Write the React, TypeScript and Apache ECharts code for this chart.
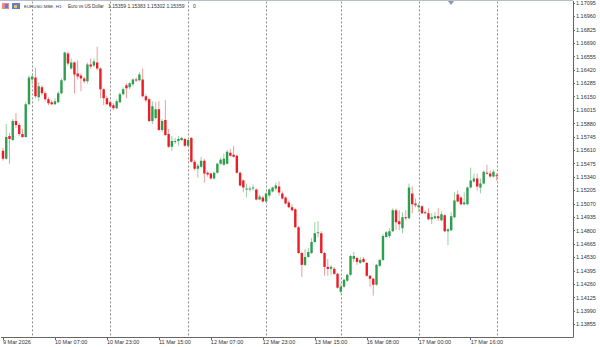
import React, { useEffect, useRef } from "react";
import * as echarts from "echarts";

const categoryCount = 176;
const xTickIndex = [0, 16, 32, 48, 64, 80, 96, 112, 128, 144];
const xTickLabels = ["9 Mar 2026", "10 Mar 07:00", "10 Mar 23:00", "11 Mar 15:00", "12 Mar 07:00", "12 Mar 23:00", "13 Mar 15:00", "16 Mar 08:00", "17 Mar 00:00", "17 Mar 16:00"];
const dayStartIndex = [9, 33, 57, 81, 104, 128, 152];
const yTickValues = [1.13855, 1.1399, 1.14125, 1.1426, 1.14395, 1.1453, 1.14665, 1.148, 1.14935, 1.1507, 1.15205, 1.1534, 1.15475, 1.1561, 1.15745, 1.1588, 1.16015, 1.1615, 1.16285, 1.1642, 1.16555, 1.1669, 1.16825, 1.1696, 1.17095];

const opens = [
  1.15605, 1.15525, 1.15755, 1.15715, 1.15905, 1.15865, 1.15775, 1.15745, 1.16075, 1.16325,
  1.16345, 1.16145, 1.16245, 1.16185, 1.16125, 1.16095, 1.16075, 1.16095, 1.16185, 1.16315,
  1.16585, 1.16435, 1.16495, 1.16385, 1.16365, 1.16335, 1.16305, 1.16475, 1.16465, 1.16495,
  1.16435, 1.16225, 1.16135, 1.16095, 1.16065, 1.16035, 1.16095, 1.16175, 1.16265, 1.16245,
  1.16275, 1.16325, 1.16315, 1.16325, 1.16155, 1.16125, 1.15905, 1.15935, 1.16025, 1.15815,
  1.15915, 1.15775, 1.15645, 1.15695, 1.15705, 1.15715, 1.15725, 1.15655, 1.15735, 1.15495,
  1.15425, 1.15445, 1.15505, 1.15385, 1.15375, 1.15325, 1.15385, 1.15475, 1.15465, 1.15475,
  1.15585, 1.15565, 1.15555, 1.15385, 1.15305, 1.15215, 1.15215, 1.15225, 1.15215, 1.15115,
  1.15135, 1.15095, 1.15155, 1.15195, 1.15225, 1.15245, 1.15175, 1.15135, 1.15085, 1.15035,
  1.15015, 1.14835, 1.14575, 1.14455, 1.14535, 1.14575, 1.14685, 1.14775, 1.14775, 1.14575,
  1.14435, 1.14415, 1.14415, 1.14365, 1.14185, 1.14235, 1.14295, 1.14355, 1.14515, 1.14525,
  1.14475, 1.14515, 1.14475, 1.14345, 1.14315, 1.14255, 1.14445, 1.14505, 1.14735, 1.14745,
  1.14795, 1.15005, 1.14895, 1.14825, 1.14935, 1.14925, 1.15175, 1.15075, 1.15035, 1.15045,
  1.14985, 1.14975, 1.14915, 1.14925, 1.14945, 1.14905, 1.14955, 1.14795, 1.14805, 1.14935,
  1.15165, 1.15135, 1.15065, 1.15065, 1.15235, 1.15295, 1.15325, 1.15235, 1.15275, 1.15385,
  1.15375, 1.15345, 1.15359,
];
const highs = [
  1.15635, 1.15875, 1.15785, 1.15925, 1.15985, 1.15885, 1.15825, 1.16095, 1.16365, 1.16365,
  1.16445, 1.16295, 1.16265, 1.16205, 1.16145, 1.16115, 1.16135, 1.16205, 1.16335, 1.16605,
  1.16605, 1.16535, 1.16505, 1.16515, 1.16385, 1.16355, 1.16495, 1.16535, 1.16535, 1.16655,
  1.16445, 1.16235, 1.16155, 1.16115, 1.16085, 1.16125, 1.16195, 1.16245, 1.16285, 1.16295,
  1.16335, 1.16345, 1.16395, 1.16435, 1.16175, 1.16135, 1.16105, 1.16095, 1.16105, 1.15925,
  1.16115, 1.15825, 1.15755, 1.15735, 1.15755, 1.15745, 1.15735, 1.15725, 1.15745, 1.15515,
  1.15475, 1.15545, 1.15525, 1.15405, 1.15385, 1.15395, 1.15485, 1.15535, 1.15575, 1.15615,
  1.15625, 1.15655, 1.15565, 1.15395, 1.15315, 1.15275, 1.15245, 1.15265, 1.15225, 1.15165,
  1.15155, 1.15185, 1.15225, 1.15245, 1.15285, 1.15295, 1.15195, 1.15145, 1.15105, 1.15065,
  1.15025, 1.14845, 1.14585, 1.14615, 1.14625, 1.14725, 1.14885, 1.14895, 1.14795, 1.14585,
  1.14515, 1.14455, 1.14435, 1.14375, 1.14265, 1.14315, 1.14365, 1.14555, 1.14585, 1.14535,
  1.14535, 1.14535, 1.14485, 1.14355, 1.14325, 1.14465, 1.14515, 1.14765, 1.14795, 1.14825,
  1.15025, 1.15025, 1.15005, 1.14985, 1.15005, 1.15275, 1.15245, 1.15125, 1.15075, 1.15055,
  1.15005, 1.15025, 1.14975, 1.14985, 1.15025, 1.14995, 1.14965, 1.14825, 1.14985, 1.15185,
  1.15205, 1.15145, 1.15185, 1.15245, 1.15435, 1.15375, 1.15375, 1.15325, 1.15405, 1.15465,
  1.15405, 1.15415, 1.15383,
];
const lows = [
  1.15505, 1.15515, 1.15475, 1.15705, 1.15835, 1.15755, 1.15735, 1.15735, 1.16065, 1.16275,
  1.16135, 1.16105, 1.16165, 1.16105, 1.16065, 1.16065, 1.16065, 1.16085, 1.16175, 1.16305,
  1.16465, 1.16425, 1.16185, 1.16325, 1.16205, 1.16285, 1.16285, 1.16435, 1.16445, 1.16415,
  1.16135, 1.16065, 1.16065, 1.16035, 1.16015, 1.16025, 1.16085, 1.16165, 1.16135, 1.16225,
  1.16255, 1.16295, 1.16305, 1.16145, 1.16095, 1.15895, 1.15875, 1.15925, 1.15805, 1.15795,
  1.15755, 1.15635, 1.15605, 1.15675, 1.15655, 1.15705, 1.15645, 1.15645, 1.15485, 1.15405,
  1.15335, 1.15435, 1.15285, 1.15345, 1.15315, 1.15315, 1.15375, 1.15465, 1.15455, 1.15465,
  1.15545, 1.15535, 1.15375, 1.15245, 1.15185, 1.15135, 1.15195, 1.15205, 1.15105, 1.15105,
  1.15085, 1.15085, 1.15135, 1.15185, 1.15205, 1.15155, 1.15115, 1.15065, 1.15025, 1.14995,
  1.14825, 1.14565, 1.14335, 1.14445, 1.14525, 1.14565, 1.14675, 1.14735, 1.14565, 1.14345,
  1.14345, 1.14355, 1.14355, 1.14215, 1.14165, 1.14225, 1.14285, 1.14345, 1.14485, 1.14455,
  1.14465, 1.14475, 1.14335, 1.14235, 1.14145, 1.14245, 1.14435, 1.14495, 1.14725, 1.14725,
  1.14785, 1.14805, 1.14805, 1.14775, 1.14905, 1.14915, 1.14975, 1.15035, 1.14985, 1.14965,
  1.14965, 1.14905, 1.14865, 1.14915, 1.14895, 1.14895, 1.14785, 1.14655, 1.14795, 1.14925,
  1.15085, 1.15055, 1.15055, 1.15055, 1.15225, 1.15285, 1.15205, 1.15175, 1.15265, 1.15365,
  1.15335, 1.15335, 1.15302,
];
const closes = [
  1.15525, 1.15745, 1.15725, 1.15905, 1.15865, 1.15775, 1.15745, 1.16075, 1.16345, 1.16355,
  1.16155, 1.16255, 1.16185, 1.16125, 1.16085, 1.16075, 1.16105, 1.16185, 1.16315, 1.16595,
  1.16485, 1.16495, 1.16375, 1.16355, 1.16335, 1.16305, 1.16475, 1.16455, 1.16505, 1.16435,
  1.16225, 1.16135, 1.16075, 1.16055, 1.16035, 1.16105, 1.16175, 1.16225, 1.16235, 1.16285,
  1.16325, 1.16315, 1.16375, 1.16155, 1.16115, 1.15905, 1.16055, 1.16025, 1.15815, 1.15905,
  1.15765, 1.15645, 1.15705, 1.15705, 1.15725, 1.15735, 1.15655, 1.15715, 1.15495, 1.15425,
  1.15455, 1.15505, 1.15375, 1.15365, 1.15325, 1.15385, 1.15475, 1.15515, 1.15525, 1.15595,
  1.15555, 1.15545, 1.15385, 1.15255, 1.15235, 1.15225, 1.15225, 1.15235, 1.15115, 1.15145,
  1.15095, 1.15175, 1.15215, 1.15235, 1.15255, 1.15185, 1.15125, 1.15075, 1.15035, 1.15005,
  1.14835, 1.14575, 1.14455, 1.14535, 1.14585, 1.14685, 1.14775, 1.14785, 1.14575, 1.14435,
  1.14415, 1.14435, 1.14365, 1.14225, 1.14235, 1.14305, 1.14355, 1.14545, 1.14545, 1.14485,
  1.14505, 1.14485, 1.14345, 1.14315, 1.14255, 1.14455, 1.14505, 1.14745, 1.14785, 1.14795,
  1.15005, 1.14885, 1.14865, 1.14935, 1.14925, 1.15235, 1.15065, 1.15055, 1.15055, 1.14975,
  1.14975, 1.14915, 1.14935, 1.14945, 1.14925, 1.14965, 1.14795, 1.14815, 1.14945, 1.15105,
  1.15095, 1.15065, 1.15085, 1.15235, 1.15305, 1.15325, 1.15245, 1.15275, 1.15395, 1.15375,
  1.15345, 1.15395, 1.15359,
];

const symbolTitle = "EURUSD.MBE, H1:";
const symbolName = "Euro vs US Dollar";

const FONT = "'Liberation Sans', Arial, sans-serif";
const BULL = "#2e9d4e";
const BEAR = "#ec1c24";
const BULL_WICK = "#98cea4";
const BEAR_WICK = "#f09c9c";

export default function App() {
  const ref = useRef<HTMLDivElement>(null);
  useEffect(() => {
    if (!ref.current) return;
    const chart = echarts.init(ref.current, null, { renderer: "svg" });
    const categories = Array.from({ length: categoryCount }, (_, i) => String(i));
    const candleData = opens.map((o, i) => [i, o, closes[i], lows[i], highs[i]]);
    const last = opens.length - 1;
    const ohlcText = [opens[last], highs[last], lows[last], closes[last]].map((v) => v.toFixed(5)).join(" ");
    const labelFor = (idx: number) => {
      const p = xTickIndex.indexOf(idx);
      return p >= 0 ? xTickLabels[p] : "";
    };
    const showIdx = (idx: number) => xTickIndex.indexOf(idx) >= 0;

    chart.setOption({
      animation: false,
      backgroundColor: "#ffffff",
      grid: { left: -1.3, right: 27, top: 0, bottom: 10, containLabel: false },
      xAxis: {
        type: "category",
        data: categories,
        boundaryGap: true,
        axisLine: { show: true, lineStyle: { color: "#666", width: 1 } },
        axisTick: { show: true, interval: showIdx, alignWithLabel: true, length: 3, lineStyle: { color: "#666" } },
        axisLabel: {
          show: true,
          interval: showIdx,
          formatter: (_v: string, idx: number) => labelFor(idx),
          align: "left",
          margin: 2,
          fontSize: 5.5,
          color: "#333",
          fontFamily: FONT,
        },
        splitLine: { show: false },
      },
      yAxis: {
        type: "value",
        position: "right",
        min: 1.13728,
        max: 1.17111,
        scale: true,
        axisLine: { show: true, lineStyle: { color: "#666", width: 1 } },
        axisTick: { show: true, length: 2, customValues: yTickValues, lineStyle: { color: "#666" } },
        axisLabel: {
          show: true,
          customValues: yTickValues,
          formatter: (v: number) => v.toFixed(5),
          margin: 3,
          fontSize: 5.5,
          color: "#333",
          fontFamily: FONT,
        },
        splitLine: { show: false },
      },
      series: [
        {
          type: "custom",
          silent: true,
          clip: true,
          data: dayStartIndex.map((k) => [k]),
          encode: { x: 0 },
          renderItem: (params: any, api: any) => {
            const cs = params.coordSys;
            const x = Math.round(api.coord([api.value(0), 1.15])[0]) + 0.5;
            return {
              type: "line",
              shape: { x1: x, y1: cs.y, x2: x, y2: cs.y + cs.height },
              style: { stroke: "#8a8a8a", lineWidth: 1, lineDash: [2, 2] },
            };
          },
        },
        {
          type: "custom",
          silent: true,
          clip: true,
          data: candleData,
          encode: { x: 0, y: [1, 2, 3, 4] },
          renderItem: (_params: any, api: any) => {
            const k = api.value(0);
            const o = api.value(1);
            const c = api.value(2);
            const l = api.value(3);
            const h = api.value(4);
            const pO = api.coord([k, o]);
            const pC = api.coord([k, c]);
            const pL = api.coord([k, l]);
            const pH = api.coord([k, h]);
            const w = api.size([1, 0])[0] * 0.74;
            const up = c > o;
            const top = Math.min(pO[1], pC[1]);
            const bh = Math.max(1, Math.abs(pO[1] - pC[1]));
            return {
              type: "group",
              children: [
                {
                  type: "line",
                  shape: { x1: pH[0], y1: pH[1], x2: pL[0], y2: pL[1] },
                  style: { stroke: up ? BULL_WICK : BEAR_WICK, lineWidth: 1 },
                },
                {
                  type: "rect",
                  shape: { x: pO[0] - w / 2, y: top, width: w, height: bh },
                  style: { fill: up ? BULL : BEAR },
                },
              ],
            };
          },
        },
      ],
      graphic: [
        { type: "line", shape: { x1: 0, y1: 0.5, x2: 573, y2: 0.5 }, style: { stroke: "#b8bfc8", lineWidth: 1 } },
        { type: "polygon", shape: { points: [[448, 1], [454, 1], [451, 5]] }, style: { fill: "#8d99a8" } },
        { type: "rect", shape: { x: 2, y: 3, width: 7, height: 6 }, style: { fill: "#e98a8a" } },
        { type: "rect", shape: { x: 5, y: 4, width: 3, height: 4 }, style: { fill: "#5b7fd1" } },
        { type: "rect", shape: { x: 12, y: 3, width: 8, height: 6 }, style: { fill: "#5b7fd1" } },
        { type: "rect", shape: { x: 14, y: 5, width: 3, height: 3 }, style: { fill: "#f0c040" } },
        { type: "text", x: 24, y: 6, style: { text: symbolTitle, fontSize: 4.4, fill: "#333", fontFamily: FONT, textVerticalAlign: "middle" } },
        { type: "text", x: 68, y: 6, style: { text: symbolName, fontSize: 4.5, fill: "#333", fontFamily: FONT, textVerticalAlign: "middle" } },
        { type: "text", x: 108, y: 6, style: { text: ohlcText, fontSize: 5, fill: "#333", fontFamily: FONT, textVerticalAlign: "middle" } },
        { type: "text", x: 193, y: 6, style: { text: "0", fontSize: 5, fill: "#333", fontFamily: FONT, textVerticalAlign: "middle" } },
      ],
    });
    return () => chart.dispose();
  }, []);
  return (
    <div
      ref={ref}
      style={{ position: "fixed", left: 0, top: 0, width: 600, height: 347, background: "#fff" }}
    />
  );
}
